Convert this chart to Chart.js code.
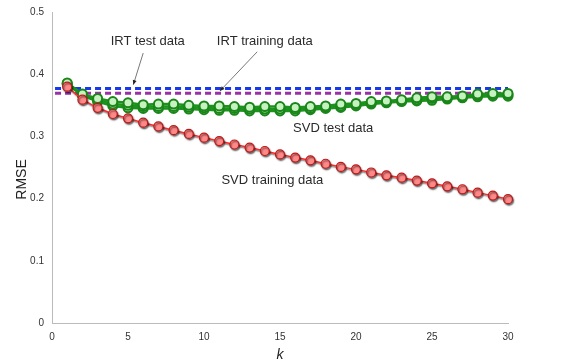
<!DOCTYPE html>
<html>
<head>
<meta charset="utf-8">
<script src="https://cdn.jsdelivr.net/npm/chart.js@4.4.1/dist/chart.umd.min.js"></script>
<style>
  html, body { margin: 0; padding: 0; background: #fff; }
</style>
</head>
<body>
<canvas id="c" width="563" height="362"></canvas>
<script>
// k values and RMSE readings
const kValues = [1,2,3,4,5,6,7,8,9,10,11,12,13,14,15,16,17,18,19,20,21,22,23,24,25,26,27,28,29,30];

const svdTrain = [0.380,0.359,0.346,0.336,0.329,0.322,0.316,0.310,0.304,0.298,
                  0.2925,0.287,0.282,0.2765,0.271,0.266,0.2615,0.256,0.251,0.247,
                  0.242,0.2375,0.2337,0.229,0.2246,0.2198,0.215,0.2096,0.2048,0.199];

// several overlapping SVD test runs
const svdTestHigh = [0.386,0.368,0.361,0.356,0.354,0.351,0.352,0.352,0.350,0.349,
                     0.349,0.348,0.347,0.348,0.348,0.3465,0.348,0.349,0.352,0.353,
                     0.356,0.357,0.359,0.362,0.3636,0.3636,0.365,0.368,0.369,0.369];
const svdTestMid  = [0.385,0.367,0.358,0.352,0.350,0.348,0.348,0.348,0.347,0.346,
                     0.345,0.345,0.344,0.344,0.344,0.344,0.345,0.347,0.349,0.351,
                     0.354,0.355,0.357,0.359,0.361,0.362,0.363,0.366,0.367,0.367];
const svdTestLow  = [0.384,0.366,0.356,0.349,0.346,0.345,0.345,0.345,0.344,0.343,
                     0.342,0.342,0.341,0.341,0.341,0.341,0.343,0.345,0.3465,0.349,
                     0.352,0.354,0.356,0.357,0.358,0.360,0.362,0.3636,0.3647,0.3647];

const irtTest = 0.377;
const irtTrain = 0.3695;
const irtSpan = [0.2, 30];

const xTicks = [0, 5, 10, 15, 20, 25, 30];
const yTicks = [0, 0.1, 0.2, 0.3, 0.4, 0.5];

const labels = [
  { text: 'IRT test data', x: 6.3, y: 0.452 },
  { text: 'IRT training data', x: 14.0, y: 0.452 },
  { text: 'SVD test data', x: 18.5, y: 0.3135 },
  { text: 'SVD training data', x: 14.5, y: 0.230 }
];
const arrows = [
  { from: [6.0, 0.434], to: [5.35, 0.383] },
  { from: [13.5, 0.436], to: [11.05, 0.373] }
];

const FONT = '"Liberation Sans", Arial, sans-serif';

const pts = (ys) => ys.map((y, i) => ({ x: kValues[i], y }));
const flat = (v) => irtSpan.map(x => ({ x, y: v }));

function greenSet(ys) {
  return {
    data: pts(ys),
    borderColor: '#1c931c',
    borderWidth: 2.5,
    pointRadius: 4.5,
    pointBackgroundColor: '#c6f2c0',
    pointBorderColor: '#1a861a',
    pointBorderWidth: 2,
    order: 3
  };
}

const annot = {
  id: 'annot',
  afterDatasetsDraw(chart) {
    const { ctx, scales: { x, y }, chartArea } = chart;
    ctx.save();
    ctx.fillStyle = '#2a2a2a';
    ctx.font = '13px ' + FONT;
    ctx.textAlign = 'center';
    ctx.textBaseline = 'middle';
    labels.forEach(l => ctx.fillText(l.text, x.getPixelForValue(l.x), y.getPixelForValue(l.y)));

    ctx.strokeStyle = '#555';
    ctx.fillStyle = '#222';
    ctx.lineWidth = 0.8;
    arrows.forEach(a => {
      const x1 = x.getPixelForValue(a.from[0]), y1 = y.getPixelForValue(a.from[1]);
      const x2 = x.getPixelForValue(a.to[0]), y2 = y.getPixelForValue(a.to[1]);
      ctx.beginPath(); ctx.moveTo(x1, y1); ctx.lineTo(x2, y2); ctx.stroke();
      const ang = Math.atan2(y2 - y1, x2 - x1);
      ctx.beginPath();
      ctx.moveTo(x2, y2);
      ctx.lineTo(x2 - 5 * Math.cos(ang - 0.4), y2 - 5 * Math.sin(ang - 0.4));
      ctx.lineTo(x2 - 5 * Math.cos(ang + 0.4), y2 - 5 * Math.sin(ang + 0.4));
      ctx.closePath(); ctx.fill();
    });

    // axis titles
    ctx.fillStyle = '#222';
    ctx.font = '14px ' + FONT;
    ctx.save();
    ctx.translate(22, (chartArea.top + chartArea.bottom) / 2 + 12);
    ctx.rotate(-Math.PI / 2);
    ctx.fillText('RMSE', 0, 0);
    ctx.restore();
    ctx.font = 'italic 14px ' + FONT;
    ctx.fillText('k', x.getPixelForValue(15), 355);
    ctx.restore();
  }
};

const shadow = {
  id: 'shadow',
  beforeDatasetDraw(chart, args) {
    if (args.index === 0) {
      chart.ctx.save();
      chart.ctx.shadowColor = 'rgba(0,0,0,0.55)';
      chart.ctx.shadowOffsetX = 1;
      chart.ctx.shadowOffsetY = 1.5;
      chart.ctx.shadowBlur = 1.5;
    }
  },
  afterDatasetDraw(chart, args) {
    if (args.index === 0) chart.ctx.restore();
  }
};

new Chart(document.getElementById('c'), {
  type: 'line',
  data: {
    datasets: [
      {
        label: 'SVD training data',
        data: pts(svdTrain),
        borderColor: '#ff2a2a',
        borderWidth: 1.5,
        pointRadius: 4.5,
        pointBackgroundColor: '#ff8888',
        pointBorderColor: '#c01818',
        pointBorderWidth: 1.2,
        order: 1
      },
      greenSet(svdTestHigh),
      greenSet(svdTestMid),
      greenSet(svdTestLow),
      {
        label: 'IRT test data',
        data: flat(irtTest),
        borderColor: '#1438f0',
        borderWidth: 3,
        borderDash: [6, 4],
        pointRadius: 0,
        order: 5
      },
      {
        label: 'IRT training data',
        data: flat(irtTrain),
        borderColor: '#9a30a8',
        borderWidth: 3,
        borderDash: [6, 4],
        pointRadius: 0,
        order: 6
      }
    ]
  },
  options: {
    responsive: false,
    animation: false,
    devicePixelRatio: 1,
    layout: { padding: { top: 12, right: 55, left: 0, bottom: 0 } },
    plugins: { legend: { display: false }, tooltip: { enabled: false } },
    elements: { line: { tension: 0 } },
    datasets: { line: { clip: false } },
    scales: {
      x: {
        type: 'linear',
        min: 0, max: 30,
        afterBuildTicks: (s) => { s.ticks = xTicks.map(v => ({ value: v })); },
        afterFit: (s) => { s.height = 39; },
        grid: { display: false, drawTicks: true, tickLength: 3, color: '#bbb' },
        border: { color: '#bbb', width: 1 },
        ticks: { color: '#333', font: { size: 10, family: FONT }, padding: 5, maxRotation: 0 }
      },
      y: {
        min: 0, max: 0.5,
        afterBuildTicks: (s) => { s.ticks = yTicks.map(v => ({ value: v })); },
        afterFit: (s) => { s.width = 52; },
        grid: { display: false, drawTicks: true, tickLength: 3, color: '#bbb' },
        border: { color: '#bbb', width: 1 },
        ticks: { color: '#333', font: { size: 10, family: FONT }, padding: 5,
                 callback: (v) => String(+v.toFixed(1)) }
      }
    }
  },
  plugins: [shadow, annot]
});
</script>
</body>
</html>
